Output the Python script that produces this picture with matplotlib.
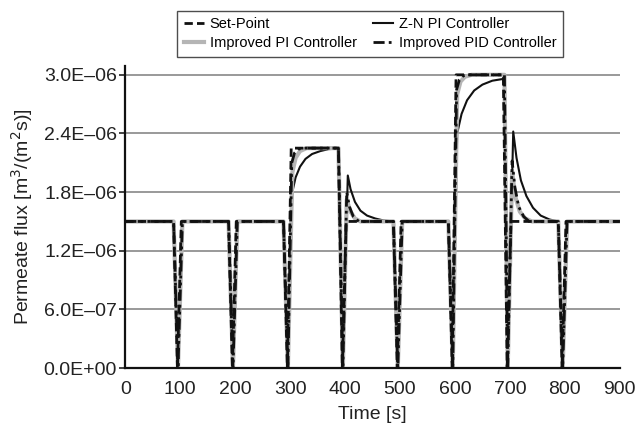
import matplotlib
matplotlib.use('Agg')
import matplotlib.pyplot as plt
import numpy as np

plt.rcParams['font.family'] = ['Liberation Sans', 'DejaVu Sans']

# values in units of 1e-6 m3/(m2 s)
t_sp = [0, 88, 95, 102, 188, 195, 202, 288, 295, 302, 388, 395, 402,
        488, 495, 502, 588, 595, 602, 688, 695, 702, 788, 795, 802, 900]
y_sp = [1.5, 1.5, 0, 1.5, 1.5, 0, 1.5, 1.5, 0, 2.25, 2.25, 0, 1.5,
        1.5, 0, 1.5, 1.5, 0, 3.0, 3.0, 0, 1.5, 1.5, 0, 1.5, 1.5]

t_zn = [0, 88, 96, 104, 188, 196, 204, 288, 296, 304, 310, 318, 328, 340,
        355, 370, 388, 396, 405, 410, 418, 428, 440, 455, 470, 488, 496, 504,
        588, 596, 604, 612, 622, 635, 650, 668, 690, 696, 706, 712, 720, 730,
        742, 756, 772, 788, 796, 804, 900]
y_zn = [1.5, 1.5, 0, 1.5, 1.5, 0, 1.5, 1.5, 0, 1.8, 1.95, 2.06, 2.14, 2.19,
        2.22, 2.24, 2.245, 0, 1.97, 1.83, 1.7, 1.61, 1.56, 1.53, 1.51, 1.5, 0, 1.5,
        1.5, 0, 2.4, 2.6, 2.74, 2.84, 2.9, 2.94, 2.96, 0, 2.42, 2.15, 1.92, 1.76,
        1.64, 1.56, 1.52, 1.5, 0, 1.5, 1.5]

t_pi = [0, 88, 96, 104, 188, 196, 204, 288, 296, 304, 310, 318, 330, 388,
        396, 403, 410, 418, 428, 488, 496, 504, 588, 596, 604, 610, 618, 630,
        690, 696, 704, 710, 718, 728, 740, 788, 796, 804, 900]
y_pi = [1.5, 1.5, 0, 1.5, 1.5, 0, 1.5, 1.5, 0, 2.0, 2.15, 2.22, 2.25, 2.25,
        0, 1.72, 1.6, 1.53, 1.5, 1.5, 0, 1.5, 1.5, 0, 2.8, 2.93, 2.98, 3.0,
        3.0, 0, 2.0, 1.75, 1.6, 1.53, 1.5, 1.5, 0, 1.5, 1.5]

t_pid = [0, 88, 96, 104, 188, 196, 204, 288, 296, 303, 308, 315, 325, 388,
         396, 403, 408, 415, 425, 488, 496, 504, 588, 596, 603, 608, 615, 625,
         690, 696, 704, 709, 716, 725, 735, 788, 796, 804, 900]
y_pid = [1.5, 1.5, 0, 1.5, 1.5, 0, 1.5, 1.5, 0, 2.1, 2.2, 2.24, 2.25, 2.25,
         0, 1.8, 1.65, 1.55, 1.5, 1.5, 0, 1.5, 1.5, 0, 2.85, 2.95, 2.99, 3.0,
         3.0, 0, 2.12, 1.85, 1.65, 1.55, 1.5, 1.5, 0, 1.5, 1.5]

y_ticks = [0, 0.6, 1.2, 1.8, 2.4, 3.0]
y_ticklabels = ['0.0E+00', '6.0E\u201307', '1.2E\u201306', '1.8E\u201306',
                '2.4E\u201306', '3.0E\u201306']
x_ticks = [0, 100, 200, 300, 400, 500, 600, 700, 800, 900]

sc = 1e-6
fig = plt.figure(figsize=(6.39, 4.26), dpi=100)
ax = fig.add_axes([0.196, 0.136, 0.774, 0.709])

l_zn, = ax.plot(t_zn, np.array(y_zn) * sc, color='#111111', lw=1.5,
                label='Z-N PI Controller')
l_pi, = ax.plot(t_pi, np.array(y_pi) * sc, color='#b5b5b5', lw=3,
                label='Improved PI Controller')
l_sp, = ax.plot(t_sp, np.array(y_sp) * sc, color='#111111', lw=2,
                dashes=(3, 1.5), label='Set-Point')
l_pid, = ax.plot(t_pid, np.array(y_pid) * sc, color='#111111', lw=2,
                 dashes=(4, 1.5, 1, 1.5, 1, 1.5), label='Improved PID Controller')

ax.set_xlim(0, 900)
ax.set_ylim(0, 3.09e-6)
ax.set_xticks(x_ticks)
ax.set_yticks(np.array(y_ticks) * sc)
ax.set_yticklabels(y_ticklabels)
ax.tick_params(axis='x', length=0, labelsize=14, pad=9, colors='#222222')
ax.tick_params(axis='y', length=4, width=1.2, direction='out', labelsize=14,
               pad=2, colors='#222222')
ax.yaxis.grid(True, color='#999999', lw=1.4)
ax.set_axisbelow(True)
for s in ['top', 'right']:
    ax.spines[s].set_visible(False)
for s in ['left', 'bottom']:
    ax.spines[s].set_linewidth(1.6)
    ax.spines[s].set_color('#111111')

ax.set_xlabel('Time [s]', fontsize=14, color='#222222', labelpad=6)
ax.set_ylabel('Permeate flux [m$^3$/(m$^2$s)]', fontsize=14, color='#222222',
              labelpad=6)

leg = fig.legend(handles=[l_sp, l_pi, l_zn, l_pid], ncol=2, fontsize=10.5,
                 loc='upper left', bbox_to_anchor=(0.277, 0.975),
                 frameon=True, fancybox=False, handlelength=1.4,
                 handletextpad=0.4, columnspacing=1.1, borderpad=0.45,
                 labelspacing=0.35, borderaxespad=0)
leg.get_frame().set_edgecolor('#222222')
leg.get_frame().set_linewidth(1.0)

fig.savefig('out.png', dpi=100)
